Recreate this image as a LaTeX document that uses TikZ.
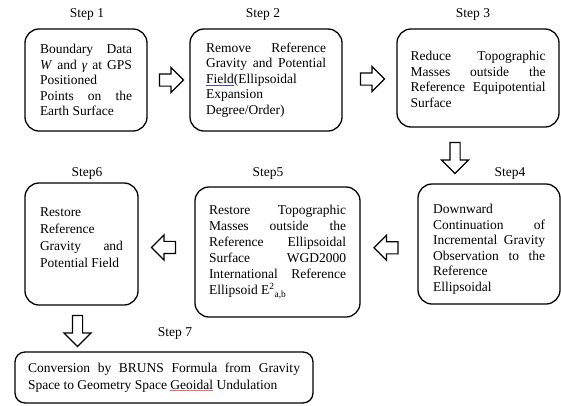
\documentclass[tikz,border=0pt]{standalone}
\usepackage{fontspec}
\setmainfont{Liberation Serif}
\usepackage{xcolor}
\usepackage{tikz}
\usetikzlibrary{
  positioning,
  shapes.arrows
}
\newcommand\spellmark[1]{\rlap{\textcolor{red!60}{\underline{\phantom{#1}}}}#1}
\newcommand\grammarmark[1]{\rlap{\textcolor{blue!40!gray}{\underline{\phantom{#1}}}}#1}
\tikzset{
  stepbox/.style={rectangle,draw,line width=1.3pt,rounded corners=14pt,align=justify,inner sep=0pt,font=\fontsize{13.5}{15.5}\selectfont},
  steplabel/.style={inner sep=1pt,font=\fontsize{13.5}{15.5}\selectfont},
  blockarrow/.style={single arrow,draw,line width=1.2pt,fill=white,inner xsep=0pt},
  rarrow/.style={blockarrow,inner ysep=5.5pt,single arrow head extend=6.5pt,minimum height=24pt},
  darrow/.style={blockarrow,inner ysep=4.5pt,single arrow head extend=8.5pt,minimum height=31pt,rotate=-90}
}

\begin{document}
\begin{tikzpicture}[x=1pt,y=1pt]
    \useasboundingbox (0,0) rectangle (561,-405);

    % Etiquetas
    \node[steplabel] (s1) at (87,-14) {Step 1};
    \node[steplabel] (s2) at (263,-14) {Step 2};
    \node[steplabel] (s3) at (473,-14) {Step 3};
    \node[steplabel] (s4) at (510,-173) {Step4};
    \node[steplabel] (s5) at (268,-173) {Step5};
    \node[steplabel] (s6) at (87,-173) {Step6};
    \node[steplabel] (s7) at (175,-333) {Step 7};

    % Fila superior
    \node[stepbox,minimum width=122pt,minimum height=102pt,text width=92pt] (b1) at (86,-80)
      {Boundary Data\linebreak \textit{W} and \textit{γ} at GPS\linebreak Positioned\linebreak Points on the\linebreak Earth Surface};
    \node[stepbox,minimum width=152pt,minimum height=102pt,text width=120pt] (b2) at (266,-80)
      {Remove Reference\linebreak Gravity and Potential\linebreak \grammarmark{Field}(Ellipsoidal\linebreak Expansion\linebreak Degree/Order)};
    \node[stepbox,minimum width=162pt,minimum height=98pt,text width=135pt,text height=12pt] (b3) at (478,-78)
      {Reduce Topographic\linebreak Masses outside the\linebreak Reference Equipotential\linebreak Surface};

    % Fila media
    \node[stepbox,minimum width=142pt,minimum height=120pt,text width=112pt,text height=20pt] (b4) at (489,-244)
      {Downward\linebreak Continuation of\linebreak Incremental Gravity\linebreak Observation to the\linebreak Reference\linebreak Ellipsoidal};
    \node[stepbox,minimum width=165pt,minimum height=130pt,text width=137pt,font=\fontsize{13.5}{16}\selectfont] (b5) at (277.5,-252)
      {Restore Topographic\linebreak Masses outside the\linebreak Reference Ellipsoidal\linebreak Surface WGD2000\linebreak International Reference\linebreak Ellipsoid E\textsuperscript{2}\textsubscript{a,b}};
    \node[stepbox,minimum width=113pt,minimum height=122pt,text width=83pt,text depth=64pt,font=\fontsize{13.5}{17}\selectfont] (b6) at (81.5,-244)
      {Restore\linebreak Reference\linebreak Gravity and\linebreak Potential Field};

    % Fila inferior
    \node[stepbox,rounded corners=10pt,minimum width=298pt,minimum height=51pt,text width=272pt,font=\fontsize{13.5}{16.5}\selectfont] (b7) at (164,-377.5)
      {Conversion by BRUNS Formula from Gravity\linebreak Space to Geometry Space \spellmark{Geoidal} Undulation};

    % Flechas
    \foreach \a/\b in {b1/b2,b2/b3} \path (\a) -- node[rarrow]{} (\b);
    \foreach \a/\b in {b4/b5,b5/b6} \path (\a) -- node[rarrow,rotate=180]{} (\b);
    \path ([xshift=-23pt]b3.south) -- node[darrow]{} ([xshift=-23pt]b3.south |- b4.north);
    \path ([xshift=-4pt]b6.south) -- node[darrow]{} ([xshift=-4pt]b6.south |- b7.north);
\end{tikzpicture}
\end{document}
